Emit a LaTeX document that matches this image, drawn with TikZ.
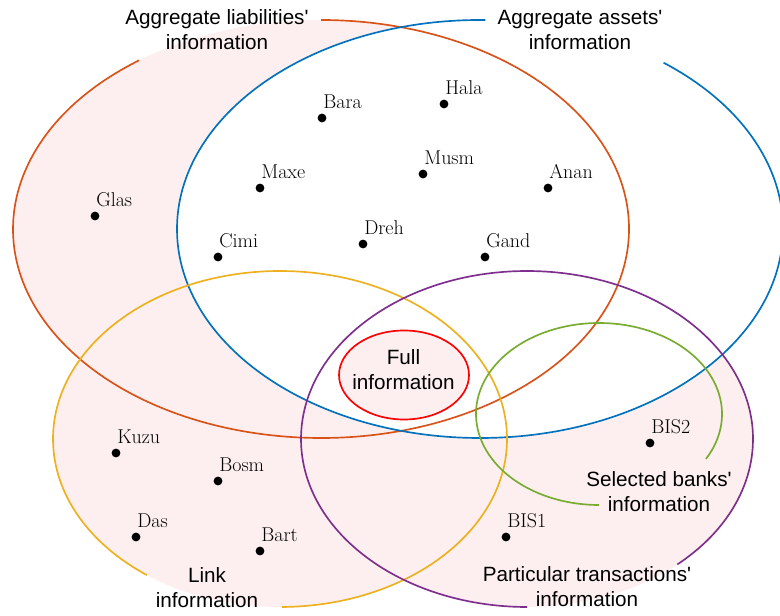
\documentclass[tikz,border=0pt]{standalone}
\usepackage{fontspec}
\usetikzlibrary{calc}
\newfontfamily\labfont{Liberation Sans}
\definecolor{cOrange}{rgb}{0.85,0.325,0.098}
\definecolor{cBlue}{rgb}{0,0.447,0.741}
\definecolor{cYellow}{rgb}{0.929,0.694,0.125}
\definecolor{cPurple}{rgb}{0.494,0.184,0.556}
\definecolor{cGreen}{rgb}{0.466,0.674,0.188}
\definecolor{cPink}{RGB}{253,239,239}
\begin{document}
\begin{tikzpicture}[x=0.75pt,y=0.75pt,
  ring/.style={line width=1.25pt},
  dot/.style={circle,fill=black,inner sep=0pt,minimum size=6.6pt},
  bank/.style={anchor=base west,inner sep=0pt,xshift=0.75pt,yshift=7pt,font=\fontsize{15}{18}\selectfont},
  title/.style={anchor=south,inner sep=0pt,align=center,font=\labfont\fontsize{15.5}{18.75}\selectfont}]
\useasboundingbox (0,0) rectangle (780,616);
% fills
\fill[cPink] (321,387) ellipse[x radius=308,y radius=209];
\fill[cPink] (280,177) ellipse[x radius=227,y radius=168];
\fill[cPink] (527,177) ellipse[x radius=226,y radius=168];
\fill[white] (480,387) ellipse[x radius=303,y radius=209];
\fill[cPink] (404,241) ellipse[x radius=65,y radius=44.5];
% outlines
\draw[ring,cOrange] ($(321,387)+(126.2:308 and 209)$) arc[start angle=126.2,end angle=450,x radius=308,y radius=209];
\draw[ring,cBlue] ($(480,387)+(89:303 and 209)$) arc[start angle=89,end angle=412.7,x radius=303,y radius=209];
\draw[ring,cYellow] ($(280,177)+(270.5:227 and 168)$) arc[start angle=270.5,end angle=594.1,x radius=227,y radius=168];
\draw[ring,cPurple] ($(527,177)+(311.7:226 and 168)$) arc[start angle=311.7,end angle=630,x radius=226,y radius=168];
\draw[ring,cGreen] ($(599,202)+(-29.6:123 and 91)$) arc[start angle=-29.6,end angle=270,x radius=123,y radius=91];
\draw[ring,red] (404,241) ellipse[x radius=65,y radius=44.5];
% titles
\node[title] (liab) at (217,566) {Aggregate liabilities'\\information};
\node[title] (assets) at (580,566) {Aggregate assets'\\information};
\node[title] (full) at (403.5,226) {Full\\information};
\node[title] (link) at (207,8) {Link\\information};
\node[title] (part) at (587,9) {Particular transactions'\\information};
\node[title] (sel) at (659,104) {Selected banks'\\information};
% banks
\node[dot] (bara) at (322,498) {}; \node[bank] (bara-l) at (bara.center) {Bara};
\node[dot] (hala) at (444,512) {}; \node[bank] (hala-l) at (hala.center) {Hala};
\node[dot] (maxe) at (260,428) {}; \node[bank] (maxe-l) at (maxe.center) {Maxe};
\node[dot] (musm) at (423,442) {}; \node[bank] (musm-l) at (musm.center) {Musm};
\node[dot] (anan) at (548,428) {}; \node[bank] (anan-l) at (anan.center) {Anan};
\node[dot] (glas) at (95,400) {}; \node[bank] (glas-l) at (glas.center) {Glas};
\node[dot] (cimi) at (218,359) {}; \node[bank] (cimi-l) at (cimi.center) {Cimi};
\node[dot] (dreh) at (363,372) {}; \node[bank] (dreh-l) at (dreh.center) {Dreh};
\node[dot] (gand) at (485,359) {}; \node[bank] (gand-l) at (gand.center) {Gand};
\node[dot] (kuzu) at (116,163) {}; \node[bank] (kuzu-l) at (kuzu.center) {Kuzu};
\node[dot] (bosm) at (218,135) {}; \node[bank] (bosm-l) at (bosm.center) {Bosm};
\node[dot] (das) at (136,79) {}; \node[bank] (das-l) at (das.center) {Das};
\node[dot] (bart) at (260,65) {}; \node[bank] (bart-l) at (bart.center) {Bart};
\node[dot] (bis1) at (506,79) {}; \node[bank] (bis1-l) at (bis1.center) {BIS1};
\node[dot] (bis2) at (650,173) {}; \node[bank] (bis2-l) at (bis2.center) {BIS2};
\end{tikzpicture}
\end{document}
